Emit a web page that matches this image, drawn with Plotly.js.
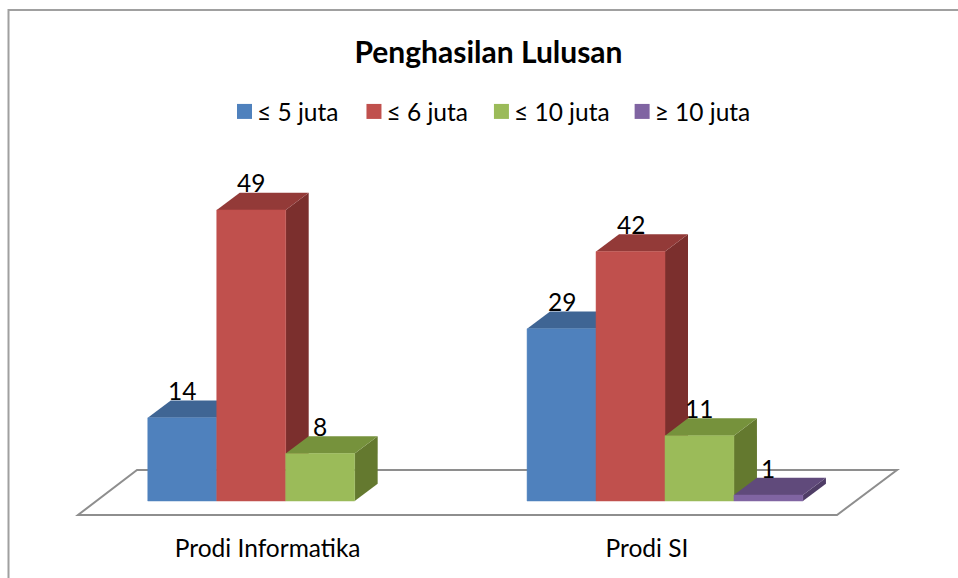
<!DOCTYPE html>
<html>
<head>
<meta charset="utf-8">
<script src="https://cdn.plot.ly/plotly-3.0.1.min.js"></script>
<style>html,body{margin:0;padding:0;background:#fff}#c{width:958px;height:578px}</style>
</head>
<body>
<div id="c"></div>
<script>
const categories = ['Prodi Informatika', 'Prodi SI'];
const seriesNames = ['≤ 5 juta', '≤ 6 juta', '≤ 10 juta', '≥ 10 juta'];
const seriesA = [14, 29];
const seriesB = [49, 42];
const seriesC = [8, 11];
const seriesD = [null, 1];
const allSeries = [seriesA, seriesB, seriesC, seriesD];
const frontColors = ['#4f81bd', '#c0504d', '#9bbb59', '#8064a2'];
const topColors = ['#3f6594', '#933a38', '#76923c', '#604a7b'];
const sideColors = ['#385d8a', '#7b2f2d', '#64792f', '#4f3d66'];

const W = 958, H = 578, mB = 53;
const plotH = H - mB;
const pxPerCat = 379.3, pxPerVal = 5.94, x0Px = 285.7, y0Px = 501;
const xr = [-x0Px / pxPerCat, (W - x0Px) / pxPerCat];
const yr = [-(plotH - y0Px) / pxPerVal, y0Px / pxPerVal];
const px2x = p => (p - x0Px) / pxPerCat;
const px2y = p => (y0Px - p) / pxPerVal;

const xPos = categories.map((_, i) => i);
const n = allSeries.length;
const bargap = 1.5 / 5.5;
const barW = (1 - bargap) / n;
const depthX = 23 / pxPerCat, depthY = 17.3 / pxPerVal;

const traces = allSeries.map((vals, s) => ({
  type: 'bar', name: seriesNames[s], x: xPos, y: vals,
  marker: {color: frontColors[s], line: {color: frontColors[s], width: 0.5}},
  hoverinfo: 'skip'
}));

const shapes = [];
shapes.push({type: 'path', xref: 'x', yref: 'y', layer: 'below',
  path: `M${px2x(78)},${px2y(515)}L${px2x(837)},${px2y(515)}L${px2x(897)},${px2y(470)}L${px2x(137)},${px2y(470)}Z`,
  fillcolor: '#ffffff', line: {color: '#8e8e8e', width: 2}});
xPos.forEach(c => {
  allSeries.forEach((vals, s) => {
    const v = vals[c];
    if (v === null) return;
    const l = c - (1 - bargap) / 2 + s * barW, r = l + barW;
    shapes.push({type: 'path', xref: 'x', yref: 'y', layer: 'below', line: {width: 0},
      fillcolor: sideColors[s],
      path: `M${r},0L${r + depthX},${depthY}L${r + depthX},${v + depthY}L${r},${v}Z`});
    shapes.push({type: 'path', xref: 'x', yref: 'y', layer: 'below', line: {width: 0},
      fillcolor: topColors[s],
      path: `M${l},${v}L${l + depthX},${v + depthY}L${r + depthX},${v + depthY}L${r},${v}Z`});
  });
});
shapes.push({type: 'path', xref: 'paper', yref: 'paper', layer: 'below',
  path: `M${8.5 / W},${-mB / plotH}L${8.5 / W},${1 - 10 / plotH}L1,${1 - 10 / plotH}`,
  line: {color: '#a0a0a0', width: 2}});

const annotations = [];
xPos.forEach(c => allSeries.forEach((vals, s) => {
  if (vals[c] === null) return;
  annotations.push({x: c - (1 - bargap) / 2 + (s + 0.5) * barW, y: vals[c], yref: 'y', xref: 'x',
    text: String(vals[c]), showarrow: false, yshift: 27, yanchor: 'middle', xanchor: 'center',
    font: {family: 'Lato, sans-serif', size: 24.5, color: '#000'}});
}));

const layout = {
  width: W, height: H,
  margin: {l: 0, r: 0, t: 0, b: mB, pad: 0},
  paper_bgcolor: '#fff', plot_bgcolor: 'rgba(0,0,0,0)',
  barmode: 'group', bargap: bargap, bargroupgap: 0,
  showlegend: true,
  title: {text: 'Penghasilan Lulusan', x: 488.5 / W, xanchor: 'center', y: 1 - 52 / H, yanchor: 'middle',
    font: {family: 'Lato, sans-serif', size: 30, color: '#000', weight: 700}},
  legend: {orientation: 'h', x: 217 / W, xanchor: 'left', y: 1 - 89 / plotH, yanchor: 'top',
    font: {family: 'Lato, sans-serif', size: 24.5, color: '#000'}, bgcolor: 'rgba(0,0,0,0)',
    itemwidth: 30, traceorder: 'normal', itemclick: false, itemdoubleclick: false},
  xaxis: {range: xr, tickmode: 'array', tickvals: xPos.map(c => c - 0.0475), ticktext: categories,
    showgrid: false, zeroline: false, showline: false, ticks: '', ticklabelstandoff: 6,
    tickfont: {family: 'Lato, sans-serif', size: 24.5, color: '#000'}, fixedrange: true},
  yaxis: {range: yr, visible: false, fixedrange: true, showgrid: false, zeroline: false},
  shapes: shapes, annotations: annotations
};

const entryNudge = [0, 3, 4, 4];
Plotly.newPlot('c', traces, layout, {displayModeBar: false, staticPlot: true}).then(gd => {
  gd.querySelectorAll('.legend .traces').forEach((g, i) => {
    const t = g.getAttribute('transform') || '';
    const m = t.match(/translate\(([-\d.]+)[, ]+([-\d.]+)\)/);
    if (m) g.setAttribute('transform', `translate(${+m[1] + entryNudge[i]},${m[2]})`);
    const sym = g.querySelector('.legendsymbols');
    if (sym) sym.setAttribute('transform', 'translate(7.5,0)');
    g.querySelectorAll('.legendsymbols path').forEach(p => {
      p.setAttribute('d', 'M7.5,7.5H-7.5V-7.5H7.5Z');
      p.style.strokeWidth = '0';
    });
  });
  const lc = gd.querySelector('.legend .scrollbox');
  const clip = gd.querySelector('[id^="legend"] rect');
  if (clip) clip.setAttribute('width', +clip.getAttribute('width') + 20);
});
</script>
</body>
</html>
